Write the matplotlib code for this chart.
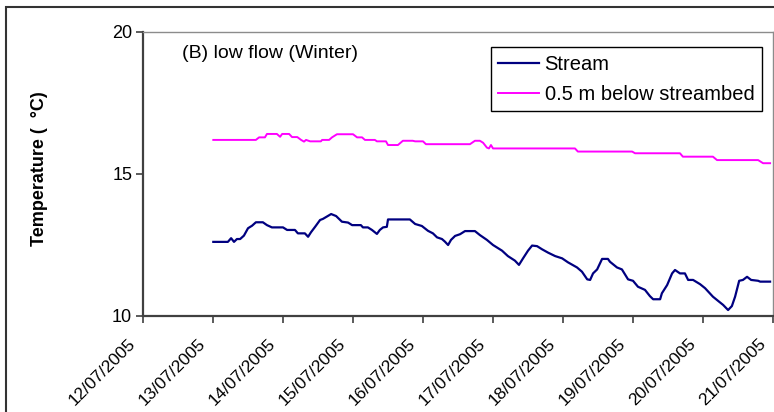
import matplotlib
matplotlib.use("Agg")
import matplotlib.pyplot as plt
import matplotlib.dates as mdates
from matplotlib.patches import Rectangle
from matplotlib.transforms import ScaledTranslation
import pandas as pd

plt.rcParams["font.family"] = ["Liberation Sans", "DejaVu Sans"]

START = pd.Timestamp("2005-07-13 00:00")

# stream temperature, hours after 13/07/2005 00:00
stream_hours = [
    0, 5.0, 6.1, 7.1, 8.1, 9.2, 10.5, 11.9, 13.3, 14.6, 17.0, 18.4, 20.1, 23.9,
    25.3, 28.0, 29.0, 31.4, 32.5, 33.5, 34.9, 36.6, 37.6, 40.4, 42.1, 44.1, 46.2,
    47.6, 50.6, 51.3, 53.0, 54.4, 56.1, 57.1, 58.2, 59.5, 59.9, 67.4, 69.2, 71.5,
    73.6, 75.3, 76.7, 78.4, 79.4, 80.5, 81.5, 82.9, 84.6, 86.3, 89.7, 91.4, 93.8,
    95.9, 99.0, 101.0, 103.4, 104.8, 106.2, 107.9, 109.3, 111.0, 112.7, 114.8,
    117.2, 119.6, 121.6, 124.7, 126.4, 128.2, 129.2, 130.2, 131.6, 133.3, 135.3,
    136.0, 138.4, 140.1, 142.2, 143.9, 145.6, 148.0, 149.7, 150.8, 153.2, 153.8,
    155.6, 157.3, 158.3, 160.0, 161.7, 162.8, 164.5, 166.9, 168.6, 171.3, 173.1,
    174.8, 176.5, 177.8, 178.9, 180.3, 181.6, 183.0, 184.4, 186.8, 187.5, 190.9,
]
stream_temp = [
    12.61, 12.61, 12.74, 12.61, 12.71, 12.71, 12.83, 13.09, 13.18, 13.30, 13.30,
    13.20, 13.12, 13.12, 13.03, 13.03, 12.91, 12.91, 12.79, 12.95, 13.14, 13.38,
    13.42, 13.59, 13.52, 13.32, 13.29, 13.20, 13.20, 13.12, 13.12, 13.03, 12.89,
    13.03, 13.12, 13.14, 13.40, 13.40, 13.24, 13.17, 13.00, 12.91, 12.77, 12.71,
    12.62, 12.50, 12.68, 12.82, 12.88, 12.99, 12.99, 12.85, 12.68, 12.50, 12.30,
    12.11, 11.95, 11.80, 12.03, 12.30, 12.48, 12.46, 12.35, 12.23, 12.11, 12.03,
    11.89, 11.71, 11.56, 11.29, 11.27, 11.50, 11.64, 12.01, 12.01, 11.91, 11.71,
    11.64, 11.29, 11.24, 11.03, 10.92, 10.70, 10.59, 10.59, 10.80, 11.09, 11.50,
    11.62, 11.50, 11.50, 11.27, 11.27, 11.12, 10.98, 10.68, 10.53, 10.39, 10.21,
    10.35, 10.68, 11.24, 11.27, 11.38, 11.27, 11.24, 11.21, 11.21,
]

# 0.5 m below streambed
bed_hours = [
    0, 14.6, 15.7, 17.7, 18.4, 21.8, 22.9, 23.6, 26.0, 27.0, 28.8, 30.1, 31.1,
    31.8, 33.2, 36.9, 37.3, 39.7, 40.7, 42.4, 47.9, 49.3, 51.0, 52.0, 55.4, 56.1,
    59.2, 59.9, 63.3, 65.0, 68.4, 69.2, 71.9, 72.9, 88.0, 89.7, 91.4, 92.5, 93.8,
    94.5, 95.2, 95.9, 124.0, 125.0, 143.6, 144.6, 160.0, 161.0, 171.3, 172.7,
    186.8, 188.5, 190.9,
]
bed_temp = [
    16.20, 16.20, 16.29, 16.29, 16.41, 16.41, 16.31, 16.41, 16.41, 16.30, 16.30,
    16.20, 16.14, 16.20, 16.15, 16.15, 16.20, 16.20, 16.29, 16.40, 16.40, 16.29,
    16.29, 16.20, 16.20, 16.15, 16.15, 16.02, 16.02, 16.17, 16.17, 16.15, 16.15,
    16.05, 16.05, 16.17, 16.17, 16.10, 15.93, 15.90, 16.02, 15.90, 15.90, 15.79,
    15.79, 15.73, 15.73, 15.61, 15.61, 15.49, 15.49, 15.38, 15.38,
]

stream_t = START + pd.to_timedelta(stream_hours, unit="h")
bed_t = START + pd.to_timedelta(bed_hours, unit="h")

W, H = 774, 412
fig = plt.figure(figsize=(W / 100, H / 100), dpi=100)
ax = fig.add_axes([143.3 / W, 1 - 316 / H, 630 / W, 284 / H])

ax.plot(stream_t, stream_temp, color="#000080", lw=1.6, label="Stream")
ax.plot(bed_t, bed_temp, color="#FF00FF", lw=1.4, label="0.5 m below streambed")

ax.set_xlim(pd.Timestamp("2005-07-12"), pd.Timestamp("2005-07-21"))
ax.set_ylim(10, 20)
ax.set_yticks([10, 15, 20])
ax.xaxis.set_major_locator(mdates.DayLocator())
ax.xaxis.set_major_formatter(mdates.DateFormatter("%d/%m/%Y"))

for side in ["top", "right"]:
    ax.spines[side].set_color("#8c8c8c")
    ax.spines[side].set_linewidth(1.0)
for side in ["left", "bottom"]:
    ax.spines[side].set_color("#404040")
    ax.spines[side].set_linewidth(1.6)

ax.tick_params(axis="y", direction="out", length=5, width=1.2, color="#404040",
               labelsize=13, pad=3)
ax.tick_params(axis="x", direction="out", length=5, width=1.2, color="#404040",
               labelsize=12.5, pad=13)
shift = ScaledTranslation(-10 / 100, 0, fig.dpi_scale_trans)
for lab in ax.get_xticklabels():
    lab.set_rotation(45)
    lab.set_rotation_mode("anchor")
    lab.set_ha("right")
    lab.set_va("center")
    lab.set_transform(lab.get_transform() + shift)

ax.set_ylabel("Temperature (  \u00b0C)", fontsize=13, fontweight="bold", labelpad=0)
ax.yaxis.set_label_coords(-(143.3 - 48) / 630, 0.52)

ax.text((182 - 143.3) / 630, (316 - 54) / 284, "(B) low flow (Winter)",
        transform=ax.transAxes, fontsize=14, ha="left", va="center")

leg = ax.legend(loc="upper right", bbox_to_anchor=((762 - 143.3) / 630, (316 - 47) / 284),
                fontsize=14.5, frameon=True, fancybox=False, framealpha=1,
                handlelength=2.0, handletextpad=0.3, labelspacing=0.55,
                borderpad=0.38, borderaxespad=0)
leg.get_frame().set_edgecolor("black")
leg.get_frame().set_linewidth(1.0)

# outer chart border
fig.patches.append(Rectangle((6 / W, -0.1), 1.2, 1 - 7 / H + 0.1, fill=False,
                             edgecolor="#333333", lw=1.5, transform=fig.transFigure))

fig.savefig("out.png", dpi=100)
